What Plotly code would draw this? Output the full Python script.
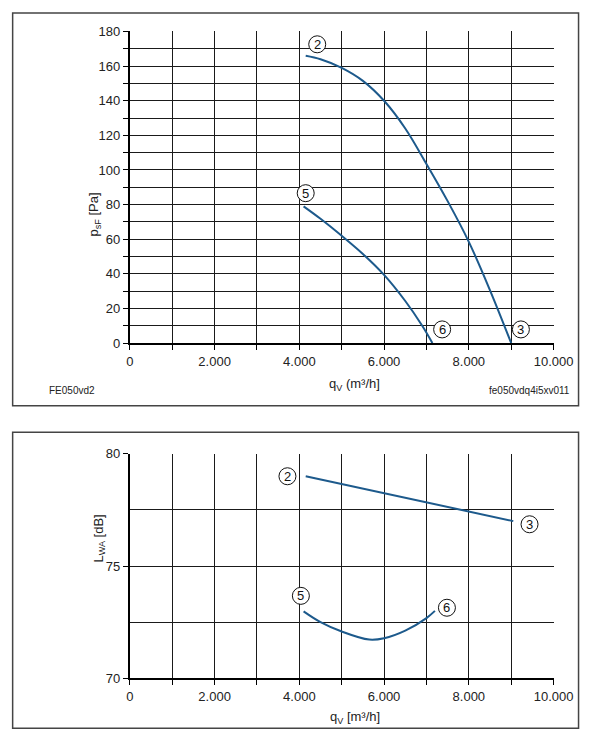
import plotly.graph_objects as go

W, H = 612, 745

# ---- data ----
# Top chart: pressure p_sF [Pa] vs volume flow q_V [m3/h]
curve23_x = [4150, 4500, 5000, 5500, 6000, 6500, 7000, 7500, 8000, 8500, 9000]
curve23_y = [166, 164, 159, 151.5, 140, 124, 103.5, 82, 58.5, 30.5, 0]
curve56_x = [4100, 4500, 5000, 5500, 6000, 6500, 6900, 7140]
curve56_y = [79, 71.8, 62, 51.5, 39.4, 24.3, 10, 0]

# Bottom chart: sound power L_WA [dB] vs q_V
noise23_x = [4150, 9050]
noise23_y = [79.0, 77.0]
noise56_x = [4100, 4500, 5000, 5650, 6000, 6500, 7000, 7200]
noise56_y = [72.98, 72.5, 72.08, 71.72, 71.78, 72.12, 72.68, 73.0]

# point labels (circled numbers): text, x, y
top_labels = [("2", 4422, 172.6), ("5", 4150, 86.6), ("6", 7370, 7.9), ("3", 9229, 7.9)]
bot_labels = [("2", 3719, 79.0), ("3", 9433, 76.86), ("5", 4036, 73.67), ("6", 7483, 73.14)]

x_tickvals = [0, 2000, 4000, 6000, 8000, 10000]
x_ticktext = ["0", "2.000", "4.000", "6.000", "8.000", "10.000"]
x_minor = [1000, 3000, 5000, 7000, 9000]
y1_tickvals = [0, 20, 40, 60, 80, 100, 120, 140, 160, 180]
y1_minor = [10, 30, 50, 70, 90, 110, 130, 150, 170]
y2_tickvals = [70, 75, 80]
y2_minor = [72.5, 77.5]

CURVE = "#1d5a8c"
GRID = "#1a1a1a"
FONT = "Liberation Sans, Arial, sans-serif"
TF = dict(family=FONT, size=13, color="#222")

def px_x(p):
    return p / W

def px_y(p):
    return (H - p) / H

fig = go.Figure()
fig.add_trace(go.Scatter(x=curve23_x, y=curve23_y, mode="lines", line=dict(color=CURVE, width=2, shape="spline"),
                         xaxis="x", yaxis="y", showlegend=False))
fig.add_trace(go.Scatter(x=curve56_x, y=curve56_y, mode="lines", line=dict(color=CURVE, width=2, shape="spline"),
                         xaxis="x", yaxis="y", showlegend=False))
fig.add_trace(go.Scatter(x=noise23_x, y=noise23_y, mode="lines", line=dict(color=CURVE, width=2),
                         xaxis="x2", yaxis="y2", showlegend=False))
fig.add_trace(go.Scatter(x=noise56_x, y=noise56_y, mode="lines", line=dict(color=CURVE, width=2, shape="spline"),
                         xaxis="x2", yaxis="y2", showlegend=False))

xdom = [px_x(131), px_x(572)]
common_x = dict(range=[0, 10000], tickvals=x_tickvals, ticktext=x_ticktext, showgrid=True, gridcolor=GRID,
                gridwidth=1, ticks="outside", ticklen=5, tickcolor="#000", showline=True, linecolor="#000",
                linewidth=2, zeroline=False, tickfont=TF, domain=xdom, fixedrange=True,
                minor=dict(tickvals=x_minor, showgrid=True, gridcolor=GRID, gridwidth=1, ticks="outside",
                           ticklen=5, tickcolor="#000"))

fig.update_layout(
    width=W, height=H, margin=dict(l=0, r=0, t=0, b=0, pad=0), autosize=False,
    paper_bgcolor="white", plot_bgcolor="white",
    font=dict(family=FONT, size=12, color="#222"),
    xaxis=dict(**common_x, anchor="y"),
    yaxis=dict(range=[0, 180], tickvals=y1_tickvals, showgrid=True, gridcolor=GRID,
               gridwidth=1, ticks="outside", ticklen=5, tickcolor="#000", showline=True, linecolor="#000",
               linewidth=2, zeroline=False, tickfont=TF, domain=[px_y(343), px_y(25)], anchor="x",
               minor=dict(tickvals=y1_minor, showgrid=True, gridcolor=GRID, gridwidth=1, ticks="outside",
                          ticklen=5, tickcolor="#000")),
    xaxis2=dict(**common_x, anchor="y2"),
    yaxis2=dict(range=[70, 80], tickvals=y2_tickvals, showgrid=True, gridcolor=GRID, gridwidth=1,
                ticks="outside", ticklen=5, tickcolor="#000", showline=True, linecolor="#000", linewidth=2,
                zeroline=False, tickfont=TF,
                minor=dict(tickvals=y2_minor, showgrid=True, gridcolor=GRID, gridwidth=1, ticks=""),
                domain=[px_y(685), px_y(456)], anchor="x2"),
)

shapes = []
# panel frames
for (t, b) in [(6, 407), (434, 736)]:
    shapes.append(dict(type="rect", xref="paper", yref="paper", x0=px_x(9), x1=px_x(598), y0=px_y(b), y1=px_y(t),
                       line=dict(color="#444", width=1.5), fillcolor="rgba(0,0,0,0)", layer="below"))
# circles for labels
annotations = []
for labels, xr, yr in [(top_labels, "x", "y"), (bot_labels, "x2", "y2")]:
    for txt, lx, ly in labels:
        shapes.append(dict(type="circle", xref=xr, yref=yr, xsizemode="pixel", ysizemode="pixel",
                           xanchor=lx, yanchor=ly, x0=-8.5, x1=8.5, y0=-8.5, y1=8.5,
                           line=dict(color="#111", width=1), fillcolor="white", layer="above"))
        annotations.append(dict(x=lx, y=ly, xref=xr, yref=yr, text=txt, showarrow=False,
                                font=dict(family=FONT, size=13, color="#111"), xanchor="center", yanchor="middle"))

# axis titles and footers
annotations += [
    dict(x=px_x(365), y=px_y(375), xref="paper", yref="paper", text="q<sub>V</sub> (m³/h]", showarrow=False,
         yanchor="top", font=dict(family=FONT, size=13, color="#222")),
    dict(x=px_x(83), y=px_y(187), xref="paper", yref="paper", text="p<sub>sF</sub> [Pa]", showarrow=False,
         textangle=-90, font=dict(family=FONT, size=13, color="#222")),
    dict(x=px_x(365), y=px_y(714), xref="paper", yref="paper", text="q<sub>V</sub> [m³/h]", showarrow=False,
         yanchor="top", font=dict(family=FONT, size=13, color="#222")),
    dict(x=px_x(88), y=px_y(569), xref="paper", yref="paper", text="L<sub>WA</sub> [dB]", showarrow=False,
         textangle=-90, font=dict(family=FONT, size=13, color="#222")),
    dict(x=px_x(45), y=px_y(391), xref="paper", yref="paper", text="FE050vd2", showarrow=False,
         xanchor="left", font=dict(family=FONT, size=10, color="#222")),
    dict(x=px_x(591), y=px_y(391), xref="paper", yref="paper", text="fe050vdq4i5xv011", showarrow=False,
         xanchor="right", font=dict(family=FONT, size=10, color="#222")),
]

fig.update_layout(shapes=shapes, annotations=annotations)
fig.write_html("out.html", config={"displayModeBar": False})
